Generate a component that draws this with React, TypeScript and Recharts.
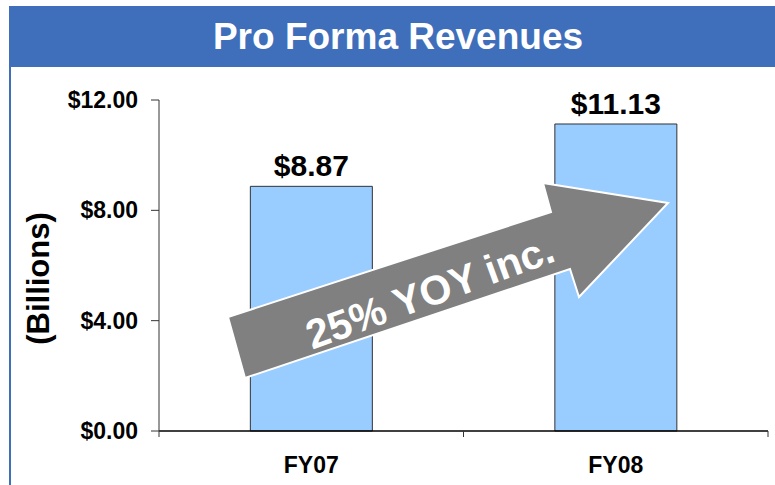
import { BarChart, Bar, XAxis, YAxis, LabelList } from 'recharts';

const categories = ['FY07', 'FY08'];
const revenues = [8.87, 11.13];
const yTicks = [0, 4, 8, 12];
const title = 'Pro Forma Revenues';
const axisTitle = '(Billions)';
const arrowText = '25% YOY inc.';

const data = categories.map((name, i) => ({ name, value: revenues[i] }));

const FONT = '"Liberation Sans", Arial, sans-serif';
const W = 775;
const H = 485;
const margin = { top: 100, right: 7, bottom: 0, left: 0 };
const yAxisWidth = 159;
const bandSize = (W - margin.left - margin.right - yAxisWidth) / categories.length;

const XTick = (props: any) => {
  const { x, y, payload, index } = props;
  return (
    <g>
      <line x1={x - bandSize / 2} x2={x - bandSize / 2} y1={y - 6} y2={y} stroke="#333" />
      {index === categories.length - 1 && (
        <line x1={x + bandSize / 2} x2={x + bandSize / 2} y1={y - 6} y2={y} stroke="#333" />
      )}
      <text x={x} y={y + 28} textAnchor="middle" dominantBaseline="central"
        fontFamily={FONT} fontWeight="bold" fontSize={23} fill="#000">
        {payload.value}
      </text>
    </g>
  );
};

// annotation drawn over the bars
const Arrow = () => (
  <svg width={W} height={H} style={{ position: 'absolute', left: 0, top: 0, pointerEvents: 'none' }}>
    <polygon
      points="228,317 551,212 543,183 668,203 579,297 570,269 245,378"
      fill="#808080" stroke="#fff" strokeWidth={2} strokeLinejoin="miter" />
    <text x={430} y={292} transform="rotate(-20 430 292)" textAnchor="middle"
      dominantBaseline="central" fontFamily={FONT} fontWeight="bold" fontSize={41} fill="#fff">
      {arrowText}
    </text>
  </svg>
);

export default function App() {
  return (
    <div style={{ position: 'absolute', left: 0, top: 0, width: W, height: H, background: '#fff', overflow: 'hidden' }}>
      <div style={{
        position: 'absolute', left: 9, top: 6, right: 0, height: 61, background: '#3F6FBA',
        color: '#fff', fontFamily: FONT, fontWeight: 'bold', fontSize: 37,
        display: 'flex', alignItems: 'center', justifyContent: 'center', paddingLeft: 12,
      }}>
        {title}
      </div>
      <div style={{ position: 'absolute', left: 9, top: 6, width: 2, bottom: 0, background: '#3F6FBA' }} />
      <div style={{ position: 'absolute', left: 0, top: 0 }}>
        <BarChart width={W} height={H} data={data} margin={margin} barCategoryGap="30%">
          <XAxis dataKey="name" tickLine={false} tickSize={6} tickMargin={0} height={54}
            axisLine={{ stroke: '#000', strokeWidth: 1.5 }} tick={<XTick />} interval={0} />
          <YAxis domain={[0, 12]} ticks={yTicks} width={yAxisWidth} tickSize={8} tickMargin={13}
            axisLine={{ stroke: '#333' }} tickLine={{ stroke: '#333' }}
            tick={{ fill: '#000', fontFamily: FONT, fontWeight: 'bold', fontSize: 23 }}
            tickFormatter={(v: number) => `$${v.toFixed(2)}`}
            label={({ viewBox }: any) => {
              const cy = viewBox.y + viewBox.height / 2 + 13;
              return (
                <text x={38} y={cy} transform={`rotate(-90 38 ${cy})`}
                  textAnchor="middle" dominantBaseline="central" fontFamily={FONT} fontWeight="bold" fontSize={31} fill="#000">
                  {axisTitle}
                </text>
              );
            }} />
          <Bar dataKey="value" fill="#99CCFF" stroke="#333" strokeWidth={1} isAnimationActive={false}>
            <LabelList dataKey="value" position="top" offset={10}
              formatter={(v: any) => `$${Number(v).toFixed(2)}`}
              style={{ fill: '#000', fontFamily: FONT, fontWeight: 'bold', fontSize: 30 }} />
          </Bar>
        </BarChart>
      </div>
      <Arrow />
    </div>
  );
}
